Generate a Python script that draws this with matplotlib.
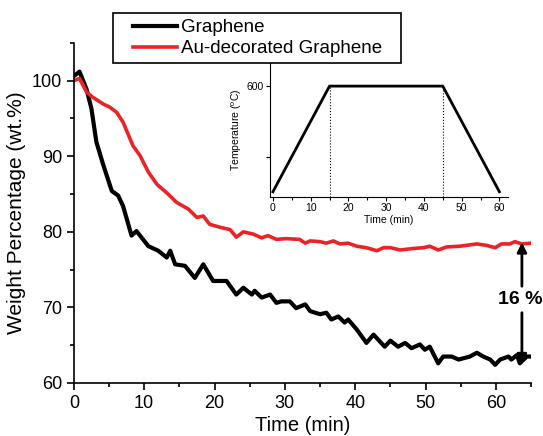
import numpy as np
import matplotlib
matplotlib.use('Agg')
import matplotlib.pyplot as plt
from matplotlib.ticker import MultipleLocator
from matplotlib.legend_handler import HandlerLine2D

plt.rcParams['font.family'] = ['Liberation Sans', 'DejaVu Sans']
plt.rcParams['mathtext.default'] = 'regular'

# valores (tempo em min, massa em wt.%)
t_graf = [0.0, 0.8, 1.8, 2.5, 3.2, 4.2, 5.4, 6.3, 7.0, 8.2, 8.9, 10.6, 12.0, 13.2, 13.7,
          14.4, 15.8, 17.2, 18.4, 19.8, 21.7, 23.1, 24.1, 25.3, 25.7, 26.7, 27.9, 28.8,
          29.5, 30.7, 31.6, 32.9, 33.6, 35.0, 35.9, 36.6, 37.6, 38.5, 39.0, 40.2, 41.6,
          42.6, 43.5, 44.2, 45.0, 46.1, 47.1, 48.0, 49.2, 49.9, 50.6, 51.8, 52.5, 53.7,
          54.7, 56.3, 57.3, 58.2, 59.2, 59.9, 60.6, 61.8, 62.2, 63.0, 63.4, 64.4, 65.0]
w_graf = [100.6, 101.2, 98.9, 96.3, 91.9, 88.8, 85.4, 84.8, 83.4, 79.5, 80.1, 78.1, 77.5,
          76.6, 77.5, 75.7, 75.5, 73.9, 75.7, 73.5, 73.5, 71.7, 72.6, 71.7, 72.2, 71.3,
          71.7, 70.6, 70.8, 70.8, 69.9, 70.4, 69.5, 69.1, 69.3, 68.4, 68.8, 68.0, 68.4,
          67.1, 65.3, 66.4, 65.5, 64.8, 65.6, 64.8, 65.3, 64.6, 65.1, 64.4, 64.8, 62.6,
          63.5, 63.5, 63.1, 63.5, 64.0, 63.5, 63.1, 62.4, 63.1, 63.5, 63.1, 63.7, 62.6,
          63.5, 63.5]

t_au = [0.0, 0.8, 1.8, 2.7, 4.2, 5.1, 6.1, 7.0, 8.4, 9.4, 10.6, 11.8, 13.4, 14.6, 16.3,
        17.5, 18.4, 19.3, 20.8, 22.2, 23.1, 24.1, 25.5, 26.7, 27.6, 28.8, 30.2, 32.1,
        32.9, 33.6, 35.0, 35.9, 36.9, 37.8, 39.0, 40.2, 41.6, 43.1, 44.0, 45.0, 46.4,
        48.3, 49.7, 50.6, 51.8, 53.0, 54.9, 57.3, 58.7, 59.9, 60.8, 62.0, 62.7, 63.7, 65.0]
w_au = [100.0, 100.3, 98.5, 97.8, 96.9, 96.5, 95.8, 94.5, 91.4, 90.1, 87.9, 86.3, 85.0,
        83.9, 83.0, 81.9, 82.1, 81.0, 80.6, 80.3, 79.3, 80.0, 79.7, 79.2, 79.5, 79.0,
        79.1, 79.0, 78.5, 78.8, 78.7, 78.5, 78.8, 78.4, 78.5, 78.1, 77.9, 77.5, 77.9,
        77.9, 77.6, 77.8, 77.9, 78.1, 77.6, 78.0, 78.1, 78.4, 78.2, 77.9, 78.4, 78.4,
        78.7, 78.4, 78.5]

# programa de temperatura do inset
t_prog = [0, 15, 45, 60]
T_prog = [300, 600, 600, 300]

fig = plt.figure(figsize=(5.43, 4.36), dpi=100)
ax = fig.add_axes([0.136, 0.1216, 0.842, 0.78])

ax.plot(t_graf, w_graf, color='black', lw=3, label='Graphene')
ax.plot(t_au, w_au, color='#ec2227', lw=2.6, label='Au-decorated Graphene')

ax.set_xlim(0, 65)
ax.set_ylim(60, 105)
ax.xaxis.set_major_locator(MultipleLocator(10))
ax.xaxis.set_minor_locator(MultipleLocator(5))
ax.set_yticks([60, 70, 80, 90, 100])
ax.yaxis.set_minor_locator(MultipleLocator(5))
for s in ['top', 'right']:
    ax.spines[s].set_visible(False)
for s in ['left', 'bottom']:
    ax.spines[s].set_linewidth(1.2)
ax.tick_params(which='major', direction='out', length=5, width=1.2, labelsize=13)
ax.tick_params(which='minor', direction='out', length=3, width=1.2)
ax.set_xlabel('Time (min)', fontsize=14.5, labelpad=3)
ax.set_ylabel('Weight Percentage (wt.%)', fontsize=15, labelpad=4)

# legenda: caixa mais larga, linha recuada
leg = ax.legend(loc='upper left',
                bbox_to_anchor=(113 / 543, 1 - 62 / 436, 288 / 543, 49 / 436),
                bbox_transform=fig.transFigure, mode='expand', borderaxespad=0,
                fontsize=13.5, fancybox=False, edgecolor='black', framealpha=1,
                handlelength=3.1, handletextpad=0.2, labelspacing=0.22, borderpad=0.32,
                handler_map={plt.Line2D: HandlerLine2D(xpad=0.75)})
leg.get_frame().set_linewidth(1.2)

# seta de 16 %
x_seta = 63.7
setas = dict(arrowstyle='-|>', color='black', lw=2, mutation_scale=14, shrinkA=0, shrinkB=0)
ax.annotate('', xy=(x_seta, 78.6), xytext=(x_seta, 72.8), arrowprops=setas)
ax.annotate('', xy=(x_seta, 62.5), xytext=(x_seta, 69.3), arrowprops=setas)
ax.text(x_seta - 0.3, 71.1, '16 %', fontsize=14, fontweight='bold',
        ha='center', va='center', clip_on=False)

# inset
ins = fig.add_axes([0.497, 0.548, 0.438, 0.307])
ins.plot(t_prog, T_prog, color='black', lw=2)
ins.vlines([15, 45], 285, 600, colors='black', linestyles=':', lw=0.8)
ins.set_xlim(-0.8, 62.2)
ins.set_ylim(285, 665)
ins.xaxis.set_major_locator(MultipleLocator(10))
ins.xaxis.set_minor_locator(MultipleLocator(5))
ins.set_yticks([400, 600])
ins.set_yticklabels(['', '600'])
for s in ['top', 'right']:
    ins.spines[s].set_visible(False)
ins.tick_params(which='major', direction='out', length=3, width=0.8, labelsize=7.5, pad=1.5)
ins.tick_params(which='minor', direction='out', length=2, width=0.8)
ins.set_xlabel('Time (min)', fontsize=7.5, labelpad=1)
ins.set_ylabel('Temperature ($^{o}$C)', fontsize=7.5, labelpad=2)
ins.patch.set_alpha(0)

fig.savefig('out.png', dpi=100)
